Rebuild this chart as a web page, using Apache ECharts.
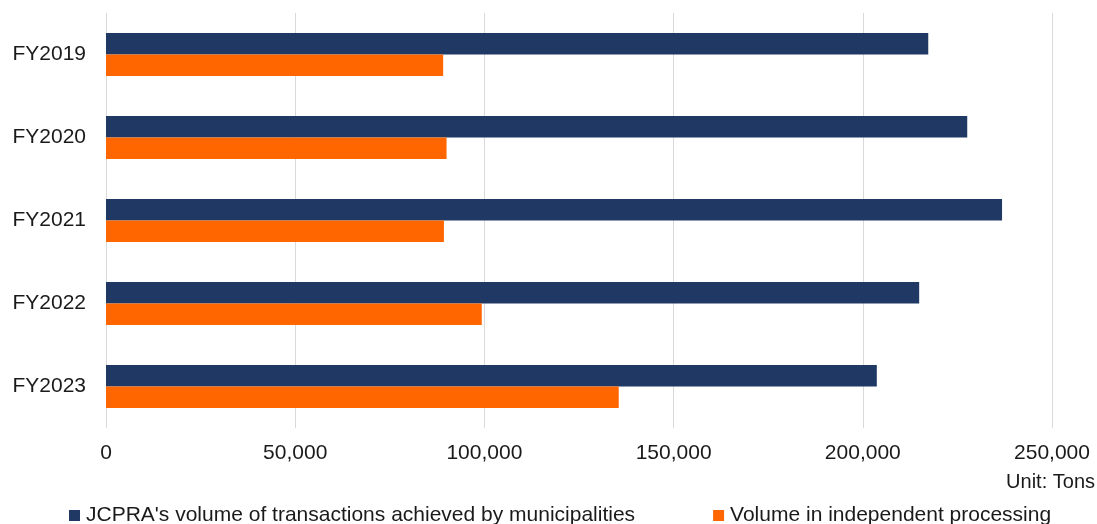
<!DOCTYPE html>
<html>
<head>
<meta charset="utf-8">
<title>JCPRA transaction volumes</title>
<script src="https://cdn.jsdelivr.net/npm/echarts@6/dist/echarts.min.js"></script>
<style>
  html, body { margin: 0; padding: 0; background: #ffffff; }
  #chart { width: 1097px; height: 524px; }
</style>
</head>
<body>
<div id="chart"></div>
<script>
// Fiscal years shown top to bottom
const years = ['FY2019', 'FY2020', 'FY2021', 'FY2022', 'FY2023'];

// Volumes in tons
const municipalVolume = [217300, 227600, 236800, 214900, 203700];
const independentVolume = [89100, 90000, 89300, 99300, 135500];

const seriesNames = [
  "JCPRA's volume of transactions achieved by municipalities",
  'Volume in independent processing'
];

const xTicks = { min: 0, max: 250000, interval: 50000 };

const FONT = '"Liberation Sans", Arial, sans-serif';
const TEXT = '#1a1a1a';

const chart = echarts.init(document.getElementById('chart'), null, { renderer: 'canvas' });

chart.setOption({
  animation: false,
  backgroundColor: '#ffffff',
  textStyle: { fontFamily: FONT },
  grid: { left: 106, right: 45, top: 13, height: 415, containLabel: false },
  legend: {
    left: 69,
    top: 505,
    padding: 0,
    icon: 'rect',
    itemWidth: 11,
    itemHeight: 11,
    itemGap: 78,
    textStyle: { fontFamily: FONT, fontSize: 21, color: TEXT, padding: [0, 0, 0, 1] },
    data: seriesNames
  },
  xAxis: {
    type: 'value',
    min: xTicks.min,
    max: xTicks.max,
    interval: xTicks.interval,
    axisLine: { show: false },
    axisTick: { show: false },
    splitLine: { show: true, lineStyle: { color: '#d9d9d9', width: 1 } },
    axisLabel: {
      fontFamily: FONT,
      fontSize: 21,
      color: TEXT,
      margin: 15,
      formatter: v => v.toLocaleString('en-US')
    }
  },
  yAxis: {
    type: 'category',
    data: years,
    inverse: true,
    axisLine: { show: false },
    axisTick: { show: false },
    splitLine: { show: false },
    axisLabel: { fontFamily: FONT, fontSize: 21, color: TEXT, margin: 20 }
  },
  graphic: [{
    type: 'text',
    right: 2,
    top: 472,
    style: { text: 'Unit: Tons', font: '20px ' + FONT, fill: TEXT }
  }],
  series: [
    {
      name: seriesNames[0],
      type: 'bar',
      data: municipalVolume,
      barWidth: 21.5,
      barGap: '0%',
      itemStyle: { color: '#203864' }
    },
    {
      name: seriesNames[1],
      type: 'bar',
      data: independentVolume,
      barWidth: 21.5,
      barGap: '0%',
      itemStyle: { color: '#ff6600' }
    }
  ]
});
</script>
</body>
</html>
